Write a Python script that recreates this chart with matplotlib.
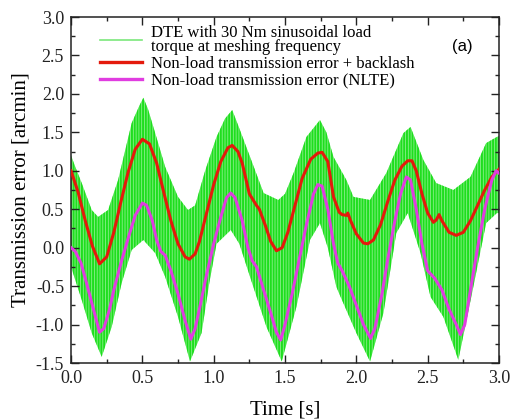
import matplotlib
matplotlib.use("Agg")
import matplotlib.pyplot as plt
from matplotlib.lines import Line2D
from matplotlib.ticker import MultipleLocator
import numpy as np

plt.rcParams['font.family'] = ['Liberation Serif', 'DejaVu Serif']
plt.rcParams['hatch.linewidth'] = 1.4

# DTE band (envelopes)
t_up = [0.0, 0.03, 0.075, 0.145, 0.19, 0.26, 0.33, 0.425, 0.48, 0.507, 0.54, 0.59, 0.66, 0.75, 0.82,
        0.87, 0.94, 1.02, 1.08, 1.13, 1.18, 1.255, 1.35, 1.453, 1.5, 1.56, 1.65, 1.745, 1.79, 1.84,
        1.93, 1.98, 2.096, 2.21, 2.33, 2.38, 2.47, 2.56, 2.68, 2.8, 2.91, 2.985, 3.0]
v_up = [1.2, 1.05, 0.84, 0.49, 0.40, 0.49, 0.88, 1.62, 1.85, 1.95, 1.8, 1.49, 1.05, 0.66, 0.49,
        0.55, 1.0, 1.44, 1.68, 1.79, 1.55, 1.18, 0.71, 0.62, 0.7, 0.97, 1.44, 1.66, 1.5, 1.18,
        0.88, 0.66, 0.62, 0.97, 1.49, 1.57, 1.14, 0.84, 0.75, 0.92, 1.36, 1.44, 1.45]
t_lo = [0.0, 0.075, 0.145, 0.215, 0.285, 0.355, 0.425, 0.507, 0.59, 0.66, 0.75, 0.834, 0.915, 0.97,
        1.02, 1.12, 1.18, 1.255, 1.37, 1.477, 1.58, 1.675, 1.745, 1.8, 1.86, 1.885, 2.0, 2.096,
        2.19, 2.28, 2.36, 2.45, 2.52, 2.61, 2.715, 2.82, 2.91, 2.985, 3.0]
v_lo = [-0.25, -0.68, -1.11, -1.42, -1.03, -0.46, -0.03, 0.1, -0.07, -0.38, -0.9, -1.48, -1.11, -0.45,
        0.05, 0.23, 0.05, -0.38, -1.03, -1.48, -0.77, 0.1, 0.32, 0.0, -0.51, -0.62, -1.11, -1.48,
        -0.85, 0.19, 0.45, -0.07, -0.64, -0.9, -1.46, -0.51, 0.32, 0.45, 0.45]

# Non-load transmission error + backlash
t_red = [0.0, 0.05, 0.1, 0.15, 0.2, 0.25, 0.3, 0.35, 0.4, 0.45, 0.5, 0.55, 0.6, 0.65, 0.7, 0.75, 0.8,
         0.83, 0.87, 0.9, 0.95, 1.0, 1.05, 1.1, 1.13, 1.17, 1.2, 1.25, 1.3, 1.32, 1.36, 1.4, 1.44,
         1.48, 1.52, 1.57, 1.62, 1.68, 1.73, 1.76, 1.8, 1.84, 1.88, 1.9, 1.93, 1.94, 1.96, 2.0,
         2.05, 2.08, 2.12, 2.17, 2.22, 2.27, 2.32, 2.36, 2.39, 2.42, 2.46, 2.5, 2.54, 2.56, 2.58,
         2.6, 2.65, 2.7, 2.75, 2.8, 2.85, 2.9, 2.95, 3.0]
v_red = [1.0, 0.72, 0.35, 0.02, -0.21, -0.12, 0.2, 0.6, 0.98, 1.28, 1.41, 1.35, 1.1, 0.72, 0.35, 0.05,
         -0.12, -0.15, -0.08, 0.08, 0.45, 0.82, 1.12, 1.3, 1.33, 1.25, 1.1, 0.7, 0.55, 0.5, 0.3, 0.08,
         -0.04, 0.0, 0.2, 0.55, 0.9, 1.15, 1.23, 1.24, 1.12, 0.66, 0.46, 0.43, 0.42, 0.45, 0.35, 0.18,
         0.06, 0.05, 0.1, 0.3, 0.6, 0.88, 1.06, 1.13, 1.13, 1.0, 0.7, 0.45, 0.33, 0.36, 0.43,
         0.35, 0.2, 0.16, 0.2, 0.35, 0.55, 0.75, 0.92, 1.02]

# Non-load transmission error (NLTE)
t_mag = [0.0, 0.03, 0.07, 0.1, 0.15, 0.2, 0.23, 0.27, 0.3, 0.35, 0.4, 0.45, 0.5, 0.53, 0.57, 0.6,
         0.63, 0.66, 0.7, 0.75, 0.8, 0.84, 0.87, 0.9, 0.95, 1.0, 1.05, 1.09, 1.12, 1.15, 1.2, 1.24,
         1.27, 1.3, 1.35, 1.4, 1.44, 1.47, 1.5, 1.55, 1.6, 1.65, 1.7, 1.73, 1.76, 1.8, 1.84, 1.87,
         1.9, 1.95, 2.0, 2.05, 2.1, 2.13, 2.18, 2.22, 2.27, 2.31, 2.35, 2.38, 2.42, 2.46, 2.5, 2.55,
         2.6, 2.65, 2.7, 2.73, 2.76, 2.8, 2.85, 2.9, 2.95, 2.98, 3.0]
v_mag = [0.0, -0.05, -0.2, -0.4, -0.75, -1.1, -1.05, -0.8, -0.55, -0.2, 0.12, 0.42, 0.58, 0.55, 0.35, 0.1,
         -0.05, -0.1, -0.3, -0.6, -0.95, -1.19, -1.05, -0.8, -0.35, 0.05, 0.4, 0.65, 0.71, 0.65, 0.35, 0.0,
         -0.17, -0.25, -0.55, -0.85, -1.1, -1.2, -1.0, -0.6, -0.15, 0.3, 0.7, 0.82, 0.8, 0.5, 0.05, -0.2,
         -0.3, -0.5, -0.75, -1.0, -1.18, -1.05, -0.6, -0.15, 0.35, 0.7, 0.92, 0.88, 0.5, 0.05, -0.3, -0.4,
         -0.55, -0.8, -1.0, -1.13, -1.0, -0.55, 0.0, 0.5, 0.88, 1.0, 0.97]

labels = ["DTE with 30 Nm sinusoidal load\ntorque at meshing frequency",
          "Non-load transmission error + backlash",
          "Non-load transmission error (NLTE)"]
x_ticks = [0.0, 0.5, 1.0, 1.5, 2.0, 2.5, 3.0]
y_ticks = [-1.5, -1.0, -0.5, 0.0, 0.5, 1.0, 1.5, 2.0, 2.5, 3.0]

fig = plt.figure(figsize=(5.11, 4.2), dpi=100)
ax = fig.add_axes([0.139, 0.1357, 0.8375, 0.8238])

# band: both envelopes on a common abscissa
tt = np.union1d(t_up, t_lo)
up_i = np.interp(tt, t_up, v_up)
lo_i = np.interp(tt, t_lo, v_lo)
ax.fill_between(tt, lo_i, up_i, facecolor='#8cf08c', edgecolor='#1ede1e',
                hatch='||||||', linewidth=0, zorder=1)

red = '#e41a0c'
mag = '#e03ce0'
ax.plot(t_red, v_red, color=red, lw=2.2, zorder=3, solid_joinstyle='round')
ax.plot(t_mag, v_mag, color=mag, lw=2.2, zorder=3, solid_joinstyle='round')

handles = [Line2D([], [], color='#7be87b', lw=1.2),
           Line2D([], [], color=red, lw=2.4),
           Line2D([], [], color=mag, lw=2.4)]
leg = ax.legend(handles, labels, loc='upper left', bbox_to_anchor=(0.045, 1.005), frameon=False,
                fontsize=12, handlelength=2.5, handletextpad=0.55, labelspacing=0.05,
                borderaxespad=0.2)
for txt in leg.get_texts():
    txt.set_linespacing(0.8)

ax.text(0.915, 0.915, '(a)', transform=ax.transAxes, fontsize=12,
        family=['Liberation Sans', 'DejaVu Sans'], ha='center', va='center')

ax.set_xlim(0, 3.0)
ax.set_ylim(-1.5, 3.0)
ax.set_xticks(x_ticks)
ax.set_yticks(y_ticks)
ax.set_xticklabels([f'{v:.1f}' for v in x_ticks])
ax.set_yticklabels([f'{v:.1f}' for v in y_ticks])
ax.xaxis.set_minor_locator(MultipleLocator(0.25))
ax.yaxis.set_minor_locator(MultipleLocator(0.25))
ax.tick_params(which='both', direction='in', top=True, right=True, labelsize=13,
               colors='#222222', pad=5)
ax.tick_params(which='major', length=6, width=1)
ax.tick_params(which='minor', length=3, width=1)
for s in ax.spines.values():
    s.set_linewidth(1.1)
    s.set_color('#222222')

ax.set_xlabel('Time [s]', fontsize=15, labelpad=10)
ax.set_ylabel('Transmission error [arcmin]', fontsize=15, labelpad=4)

fig.savefig('out.png', dpi=100)
